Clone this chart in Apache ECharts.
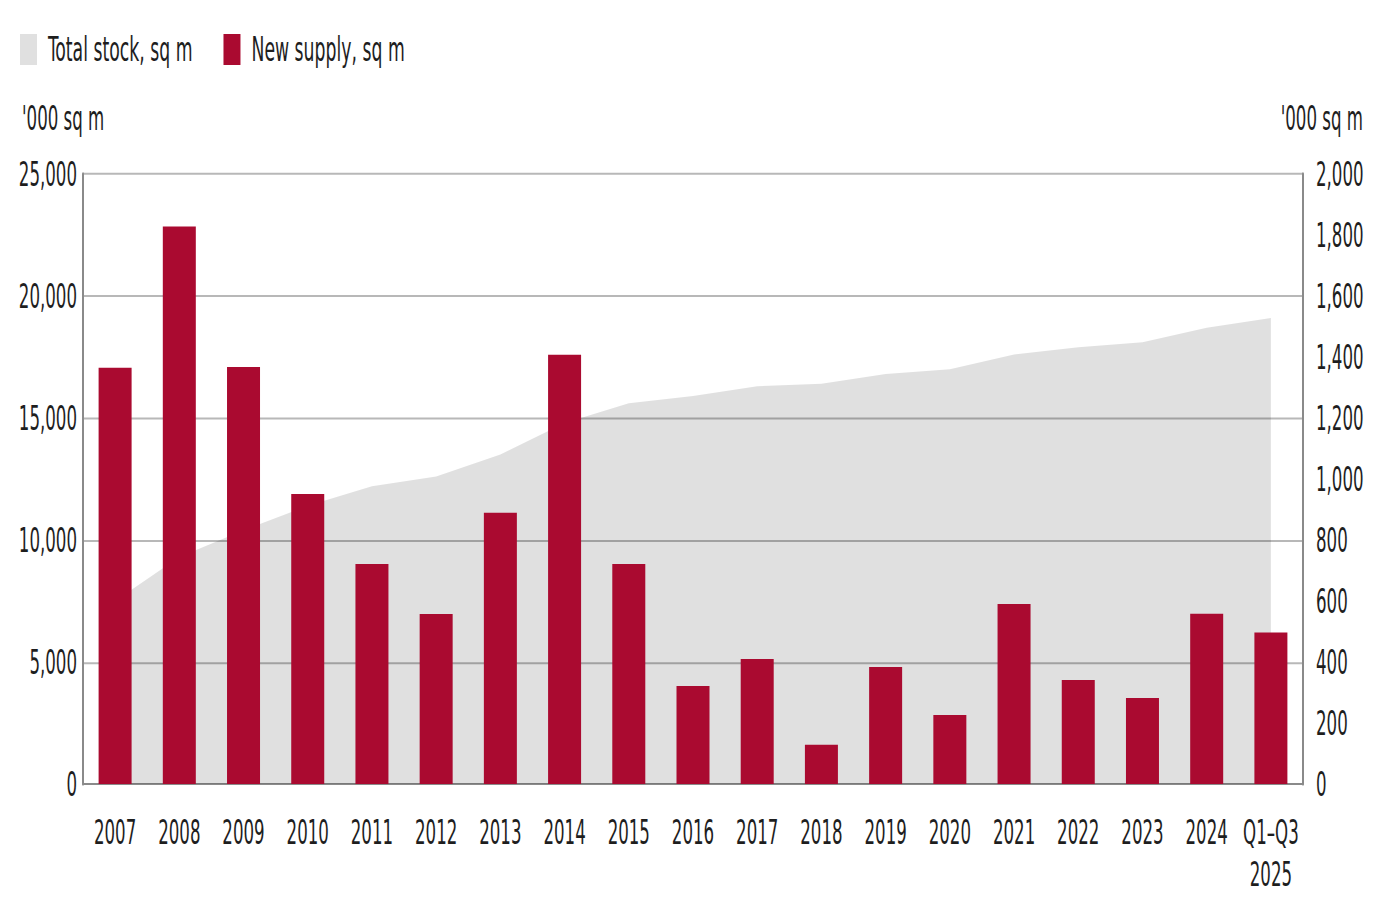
<!DOCTYPE html>
<html>
<head>
<meta charset="utf-8">
<script src="https://cdn.jsdelivr.net/npm/echarts@6/dist/echarts.min.js"></script>
<style>
html,body{margin:0;padding:0;background:#fff;overflow:hidden;}
#wrap{width:1384px;height:901px;overflow:hidden;}
#chart{width:1384px;height:501px;transform:scaleY(1.8);transform-origin:0 0;}
</style>
</head>
<body>
<div id="wrap"><div id="chart"></div></div>
<script>
const categories = ['2007','2008','2009','2010','2011','2012','2013','2014','2015','2016','2017','2018','2019','2020','2021','2022','2023','2024','Q1–Q3\n2025'];
const totalStock = [7500, 9300, 10400, 11400, 12200, 12600, 13500, 14800, 15600, 15900, 16300, 16400, 16800, 17000, 17600, 17900, 18100, 18700, 19100];
const newSupply = [1365, 1828, 1367, 951, 721, 557, 889, 1407, 721, 321, 410, 129, 384, 226, 590, 341, 282, 558, 497];
const seriesNames = ['Total stock, sq m', 'New supply, sq m'];
const unitLabel = "'000 sq m";

const FONT = "'Liberation Sans Narrow', 'DejaVu Sans Condensed', 'Liberation Sans', sans-serif";
const TXT = '#1e1e1e';
const S = 1.8;
const chart = echarts.init(document.getElementById('chart'), null, {renderer: 'svg', width: 1384, height: 501});
const fmt = v => v.toLocaleString('en-US');
chart.setOption({
  animation: false,
  textStyle: {fontFamily: FONT, color: TXT},
  title: [
    {text: unitLabel, left: 17, top: 51, textStyle: {fontFamily: FONT, fontSize: 18.5, fontWeight: 'normal', color: TXT}},
    {text: unitLabel, right: 16, top: 51, textStyle: {fontFamily: FONT, fontSize: 18.5, fontWeight: 'normal', color: TXT}}
  ],
  legend: {
    left: 15, top: 13,
    itemWidth: 17, itemHeight: 17.2, itemGap: 31,
    icon: 'rect',
    textStyle: {fontFamily: FONT, fontSize: 19.2, color: TXT, padding: [0, 0, 0, 6]},
    data: [
      {name: seriesNames[0], itemStyle: {color: '#e0e0e0'}},
      {name: seriesNames[1], itemStyle: {color: '#aa0a30'}}
    ]
  },
  grid: {left: 83, right: 81, top: 174 / S, height: 610 / S, containLabel: false},
  xAxis: {
    type: 'category',
    data: categories,
    boundaryGap: true,
    axisLine: {show: true, lineStyle: {color: '#8a8a8a', width: 1.1}},
    axisTick: {show: false},
    axisLabel: {fontFamily: FONT, fontSize: 18.5, color: TXT, margin: 15, lineHeight: 23.5, interval: 0}
  },
  yAxis: [
    {
      type: 'value', min: 0, max: 25000, interval: 5000,
      axisLine: {show: true, lineStyle: {color: '#8a8a8a', width: 2}},
      axisTick: {show: false},
      splitLine: {show: true, lineStyle: {color: '#b8b8b8', width: 1.1}},
      axisLabel: {fontFamily: FONT, fontSize: 18.5, color: TXT, margin: 6, padding: [0, 0, 3, 0], formatter: fmt}
    },
    {
      type: 'value', min: 0, max: 2000, interval: 200,
      position: 'right',
      axisLine: {show: true, lineStyle: {color: '#8a8a8a', width: 2}},
      axisTick: {show: false},
      splitLine: {show: false},
      axisLabel: {fontFamily: FONT, fontSize: 18.5, color: TXT, margin: 13, padding: [0, 0, 3, 0], formatter: fmt}
    }
  ],
  series: [
    {
      name: seriesNames[0], type: 'line', yAxisIndex: 0,
      data: totalStock,
      symbol: 'none', smooth: false,
      lineStyle: {width: 0, color: '#e0e0e0'},
      itemStyle: {color: '#e0e0e0'},
      areaStyle: {color: 'rgba(0,0,0,0.12)', opacity: 1},
      z: 1
    },
    {
      name: seriesNames[1], type: 'bar', yAxisIndex: 1,
      data: newSupply,
      barWidth: 33,
      itemStyle: {color: '#aa0a30'},
      z: 3
    }
  ]
});
</script>
</body>
</html>
